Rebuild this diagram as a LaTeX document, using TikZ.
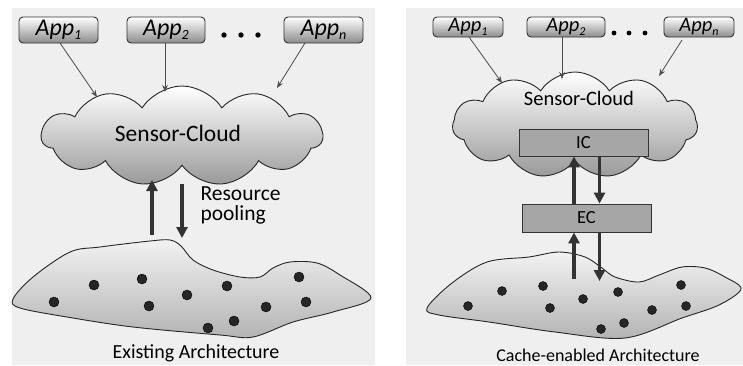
\documentclass[tikz,border=0pt]{standalone}
\usepackage{fontspec}
\setmainfont{Carlito}
\usetikzlibrary{shapes.symbols,arrows.meta}
\definecolor{panel}{HTML}{EFEFEF}
\tikzset{
  panelbox/.style={fill=panel,draw=none},
  appbox/.style={draw=black!80,line width=0.9pt,rounded corners=4pt,top color=white,bottom color=black!45,inner sep=0pt},
  cloudshape/.style={cloud,cloud puffs=11,cloud puff arc=115,cloud ignores aspect,draw=black!85,line width=0.9pt,top color=white,bottom color=black!40,inner sep=0pt},
  blob/.style={draw=black!85,line width=0.9pt,top color=black!5,bottom color=black!30},
  sensor/.style={fill=black!85,draw=black},
  thinarrow/.style={draw=black!70,line width=0.8pt,-{Stealth[length=7pt,width=5.5pt]}},
  thickarrow/.style={draw=black!80,line width=3.6pt,-{Triangle[length=11pt,width=11pt]}},
  cachebox/.style={draw=black!80,line width=0.9pt,fill=black!35,inner sep=0pt},
  dotstyle/.style={fill=black,draw=none}
}
\newcommand{\appL}[1]{\fontsize{24}{26}\selectfont\itshape App\raisebox{-0.35ex}{\fontsize{14}{14}\selectfont #1}}
\newcommand{\appR}[1]{\fontsize{20.5}{22}\selectfont\itshape App\raisebox{-0.35ex}{\fontsize{12}{12}\selectfont #1}}
\begin{document}
\begin{tikzpicture}[x=1pt,y=-1pt]
\useasboundingbox (0,0) rectangle (743,365);
% panels
\fill[panelbox] (12,8) rectangle (375,365);
\fill[panelbox] (406,8) rectangle (743,365);

% ---------------- left panel ----------------
\draw[blob] plot[smooth cycle,tension=0.55] coordinates {
 (13,299) (33,277) (70,252) (100,247) (150,241) (170,240) (181,246) (193,260)
 (213,270) (240,277) (260,277) (273,268) (290,262) (317,263) (340,275) (371,298)
 (333,312) (293,322) (253,337) (220,335) (133,327) (67,317) (20,308)};
\foreach \p/\q in {54/302,94/285,142/279,149/306,187/295,227/286,208/328,234/321,266/307,299/277,306/302}
  \fill[sensor] (\p,\q) circle (5pt);

\node[cloudshape,minimum width=281pt,minimum height=100pt] (cl) at (182,136) {};
\node[font=\fontsize{23.5}{26}\selectfont] (clt) at (178,133) {Sensor-Cloud};

\node[appbox,minimum width=79pt,minimum height=26pt] (la1) at (58.5,30) {\appL{1}};
\node[appbox,minimum width=78pt,minimum height=26pt] (la2) at (166,30) {\appL{2}};
\node[appbox,minimum width=79pt,minimum height=26pt] (lan) at (323.5,30) {\appL{n}};
\foreach \p in {224,241,258} \fill[dotstyle] (\p,35) circle (2.7pt);

\coordinate (ls1) at (60,43);   \coordinate (le1) at (97,97);
\coordinate (ls2) at (165,43);  \coordinate (le2) at (165,92);
\coordinate (lsn) at (305,43);  \coordinate (len) at (277,88);
\draw[thinarrow] (ls1) -- (le1);
\draw[thinarrow] (ls2) -- (le2);
\draw[thinarrow] (lsn) -- (len);

\coordinate (lu1) at (152,235); \coordinate (lu2) at (152,180);
\coordinate (ld1) at (182,184); \coordinate (ld2) at (182,238);
\draw[thickarrow] (lu1) -- (lu2);
\draw[thickarrow] (ld1) -- (ld2);
\node[anchor=west,align=left,font=\fontsize{21.5}{20}\selectfont] (rp) at (197,205) {Resource\\pooling};

\node[font=\fontsize{20}{22}\selectfont] (lcap) at (196,353) {Existing Architecture};

% ---------------- right panel ----------------
\draw[blob] plot[smooth cycle,tension=0.55] coordinates {
 (427,308) (452,283) (487,262) (529,257) (559,252) (585,257) (602,268) (615,277)
 (639,282) (659,275) (682,267) (705,268) (725,277) (741,289)
 (719,305) (682,318) (625,338) (555,332) (489,322) (439,315)};
\foreach \p/\q in {468/306,502/291,543/286,550/308,583/299,618/292,601/329,624/323,652/310,681/285,686/306}
  \fill[sensor] (\p,\q) circle (4.5pt);

\node[cloudshape,minimum width=245pt,minimum height=106pt] (cr) at (575,125) {};
\node[font=\fontsize{20.5}{22}\selectfont] (crt) at (579,98) {Sensor-Cloud};

\node[cachebox,minimum width=129pt,minimum height=27pt] (ic) at (583.5,142.5) {\fontsize{18.5}{20}\selectfont IC};
\node[cachebox,minimum width=129pt,minimum height=28pt] (ec) at (586.5,218) {\fontsize{18.5}{20}\selectfont EC};

\node[appbox,minimum width=70pt,minimum height=20pt] (ra1) at (468,27) {\appR{1}};
\node[appbox,minimum width=78pt,minimum height=20pt] (ra2) at (566,27) {\appR{2}};
\node[appbox,minimum width=70pt,minimum height=20pt] (ran) at (699,27) {\appR{n}};
\foreach \p in {614,629,645} \fill[dotstyle] (\p,33) circle (2.4pt);

\coordinate (rs1) at (469,37);  \coordinate (re1) at (502,83);
\coordinate (rs2) at (562,37);  \coordinate (re2) at (562,79);
\coordinate (rsn) at (682,40);  \coordinate (ren) at (659,76);
\draw[thinarrow] (rs1) -- (re1);
\draw[thinarrow] (rs2) -- (re2);
\draw[thinarrow] (rsn) -- (ren);

\coordinate (xu) at (574,0);
\coordinate (xd) at (599.5,0);
\coordinate (rb1) at (574,279);
\coordinate (rb2) at (599.5,281);
\draw[thickarrow,line width=3.2pt] (ec.north -| xu) -- (ic.south -| xu);
\draw[thickarrow,line width=3.2pt] (ic.south -| xd) -- (ec.north -| xd);
\draw[thickarrow,line width=3.2pt] (rb1) -- (ec.south -| xu);
\draw[thickarrow,line width=3.2pt] (ec.south -| xd) -- (rb2);

\node[font=\fontsize{18}{20}\selectfont] (rcap) at (598,355) {Cache-enabled Architecture};
\end{tikzpicture}
\end{document}
